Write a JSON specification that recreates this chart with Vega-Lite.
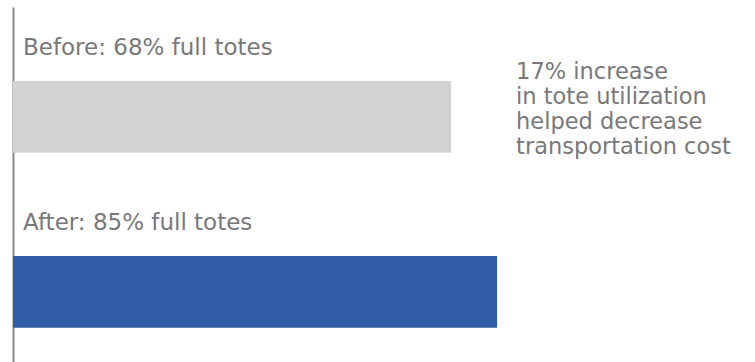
{
  "$schema": "https://vega.github.io/schema/vega-lite/v6.json",
  "width": 742,
  "height": 355,
  "autosize": "none",
  "padding": {"left": 13, "top": 7, "right": 0, "bottom": 0},
  "background": "white",
  "config": {"view": {"stroke": null}, "font": "DejaVu Sans"},
  "datasets": {
    "bars": [
      {"stage": "Before", "value": 68, "label": "Before: 68% full totes"},
      {"stage": "After", "value": 85, "label": "After: 85% full totes"}
    ],
    "note": [
      {"stage": "Before", "value": 85, "text": ["17% increase", "in tote utilization", "helped decrease", "transportation cost"]}
    ]
  },
  "encoding": {
    "y": {
      "field": "stage",
      "type": "nominal",
      "sort": ["Before", "After"],
      "scale": {"paddingInner": 0.59, "paddingOuter": 0.309, "align": 0.684},
      "axis": {"title": null, "labels": false, "ticks": false, "domainColor": "#888888", "domainWidth": 2, "grid": false}
    }
  },
  "layer": [
    {
      "data": {"name": "bars"},
      "mark": {"type": "bar"},
      "encoding": {
        "x": {"field": "value", "type": "quantitative", "scale": {"domain": [-93.87, 180.3], "zero": false, "nice": false}, "axis": null},
        "x2": {"datum": -93.87},
        "color": {"field": "stage", "type": "nominal", "scale": {"domain": ["Before", "After"], "range": ["#d1d2d4", "#315ca8"]}, "legend": null}
      }
    },
    {
      "data": {"name": "bars"},
      "mark": {"type": "text", "align": "left", "baseline": "alphabetic", "dx": 10, "dy": -26, "fontSize": 23, "color": "#78787a"},
      "encoding": {
        "x": {"datum": -93.87, "type": "quantitative"},
        "y": {"field": "stage", "type": "nominal", "sort": ["Before", "After"], "bandPosition": 0},
        "text": {"field": "label"}
      }
    },
    {
      "data": {"name": "note"},
      "mark": {"type": "text", "align": "left", "baseline": "alphabetic", "dx": 19, "dy": -2, "fontSize": 22.5, "lineHeight": 25, "color": "#78787a"},
      "encoding": {
        "x": {"field": "value", "type": "quantitative"},
        "y": {"field": "stage", "type": "nominal", "sort": ["Before", "After"], "bandPosition": 0},
        "text": {"field": "text"}
      }
    }
  ]
}
